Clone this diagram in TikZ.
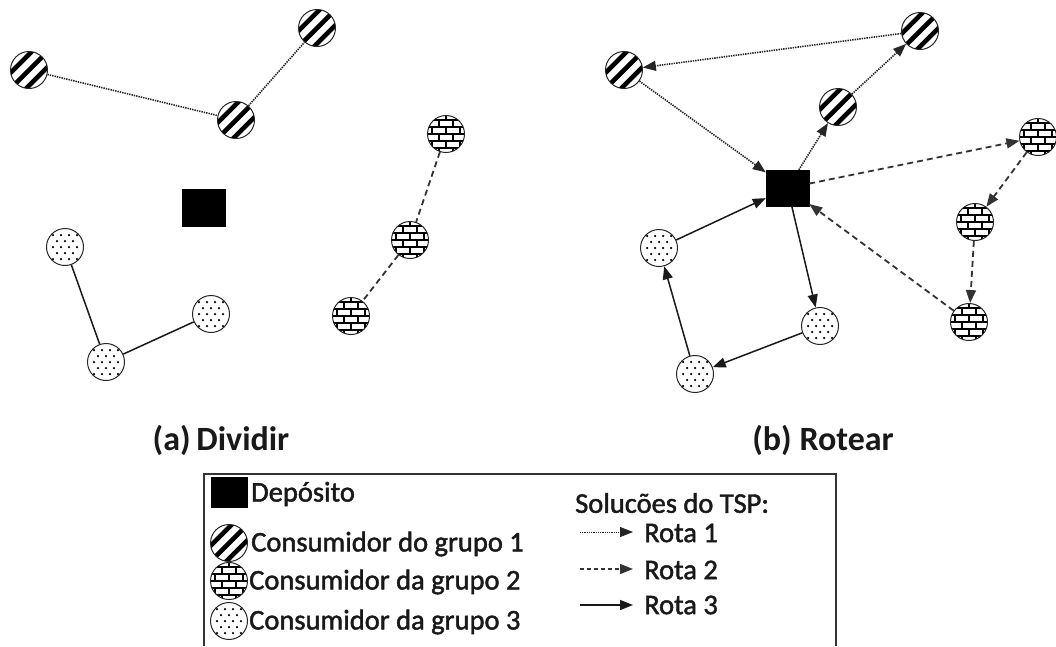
\documentclass[tikz,border=0pt]{standalone}
\usepackage{fontspec}
\setmainfont{Carlito}
\newfontfamily\legfont[FakeBold=1.6]{Carlito}
\usetikzlibrary{arrows.meta}

\tikzset{
  cust/.style={circle, draw=black!85, line width=1pt, minimum size=37pt, inner sep=0pt, fill=white},
  stripes/.style={cust, path picture={
      \foreach \o in {-11,0,11}
        \draw[black, line width=4.6pt, shift={(path picture bounding box.center)}]
          (\o*0.7071-24, \o*0.7071+24) -- (\o*0.7071+24, \o*0.7071-24);
    }},
  bricks/.style={cust, path picture={
      \begin{scope}[black, shift={(path picture bounding box.center)}, line width=1.3pt]
        \foreach \y in {-14,-7,0,7,14} \draw (-20,\y) -- (20,\y);
        \foreach \y/\s in {-21/0,-14/7,-7/0,0/7,7/0,14/7}
          \foreach \x in {-21,-7,7,21}
            \draw (\x+\s-7,\y) -- (\x+\s-7,\y+7);
      \end{scope}
    }},
  dots/.style={cust, path picture={
      \begin{scope}[shift={(path picture bounding box.center)}]
        \foreach \y in {-12,0,12} \foreach \x in {-12,-4,4,12}
          \fill[black] (\x,\y) circle (1.25pt);
        \foreach \y in {-6,6} \foreach \x in {-8,0,8}
          \fill[black] (\x,\y) circle (1.25pt);
      \end{scope}
    }},
  depot/.style={rectangle, fill=black, draw=black, minimum width=43pt, minimum height=37pt, inner sep=0pt},
  tip/.style={-{Triangle[length=13pt,width=10pt]}},
  r1/.style={line width=1.6pt, black!85, dash pattern=on 1.4pt off 1pt},
  r2/.style={line width=1.8pt, black!80, dash pattern=on 6pt off 4pt},
  r3/.style={line width=1.5pt, black!90},
  caption/.style={font=\fontsize{34}{38}\selectfont\bfseries, text=black!90},
  legtext/.style={font=\legfont\fontsize{28.5}{31}\selectfont, anchor=west, inner sep=0pt, text=black!90}
}

\begin{document}
\begin{tikzpicture}[x=1pt, y=-1pt]
  \useasboundingbox (0,0) rectangle (1056,646);

  % (a) Dividir: customers grouped around the depot
  \node[depot] (da) at (203.5,207.5) {};
  \node[stripes] (a1) at (29,70) {};
  \node[stripes] (a2) at (236,120) {};
  \node[stripes] (a3) at (317,28) {};
  \node[bricks] (a4) at (446,134) {};
  \node[bricks] (a5) at (410,240) {};
  \node[bricks] (a6) at (351,316) {};
  \node[dots] (a7) at (65,247) {};
  \node[dots] (a8) at (211,314) {};
  \node[dots] (a9) at (106,362) {};

  \draw[r1] (a1) -- (a2);
  \draw[r1] (a2) -- (a3);
  \draw[r2] (a4) -- (a5);
  \draw[r2] (a5) -- (a6);
  \draw[r3] (a7) -- (a9);
  \draw[r3] (a9) -- (a8);

  % (b) Rotear: one TSP tour per group
  \node[depot, minimum height=36pt] (db) at (787.5,188) {};
  \node[stripes] (b1) at (624,70) {};
  \node[stripes] (b2) at (920,31) {};
  \node[stripes] (b3) at (838,107) {};
  \node[bricks] (b4) at (1038,137) {};
  \node[bricks] (b5) at (975,222) {};
  \node[bricks] (b6) at (969,322) {};
  \node[dots] (b7) at (659,248) {};
  \node[dots] (b8) at (820,326) {};
  \node[dots] (b9) at (695,374) {};

  \draw[r1, tip] (db) -- (b3);
  \draw[r1, tip] (b3) -- (b2);
  \draw[r1, tip] (b2) -- (b1);
  \draw[r1, tip] (b1) -- (db);

  \draw[r2, tip] (db) -- (b4);
  \draw[r2, tip] (b4) -- (b5);
  \draw[r2, tip] (b5) -- (b6);
  \draw[r2, tip] (b6) -- (db);

  \draw[r3, tip] (db) -- (b8);
  \draw[r3, tip] (b8) -- (b9);
  \draw[r3, tip] (b9) -- (b7);
  \draw[r3, tip] (b7) -- (db);

  % captions
  \node[caption] (capa) at (221,440) {(a)\,Dividir};
  \node[caption] (capb) at (823,440) {(b) Rotear};

  % legend
  \draw[line width=1.5pt, black!80] (204,646) |- (836,474) -- (836,646);

  \node[depot, minimum width=36pt, minimum height=30pt] (ldep) at (229,492) {};
  \node[stripes] (lg1) at (229,543) {};
  \node[bricks] (lg2) at (229,581) {};
  \node[dots] (lg3) at (229,621) {};

  \node[legtext] (tdep) at (251,494) {Depósito};
  \node[legtext] (tg1) at (251,544) {Consumidor do grupo 1};
  \node[legtext] (tg2) at (249,582) {Consumidor da grupo 2};
  \node[legtext] (tg3) at (249,622) {Consumidor da grupo 3};

  \node[legtext] (tsol) at (575,503) {Solucões do TSP:};
  \coordinate (s1) at (580,532);
  \coordinate (e1) at (633,532);
  \coordinate (s2) at (580,569);
  \coordinate (e2) at (633,569);
  \coordinate (s3) at (580,605);
  \coordinate (e3) at (633,605);
  \draw[r1, line width=0.9pt, dash pattern=on 1pt off 0.8pt, tip] (s1) -- (e1);
  \draw[r2, line width=1.3pt, dash pattern=on 4pt off 3pt, tip] (s2) -- (e2);
  \draw[r3, tip] (s3) -- (e3);
  \node[legtext] (tr1) at (644,533) {Rota 1};
  \node[legtext] (tr2) at (644,570) {Rota 2};
  \node[legtext] (tr3) at (644,605) {Rota 3};
\end{tikzpicture}
\end{document}
